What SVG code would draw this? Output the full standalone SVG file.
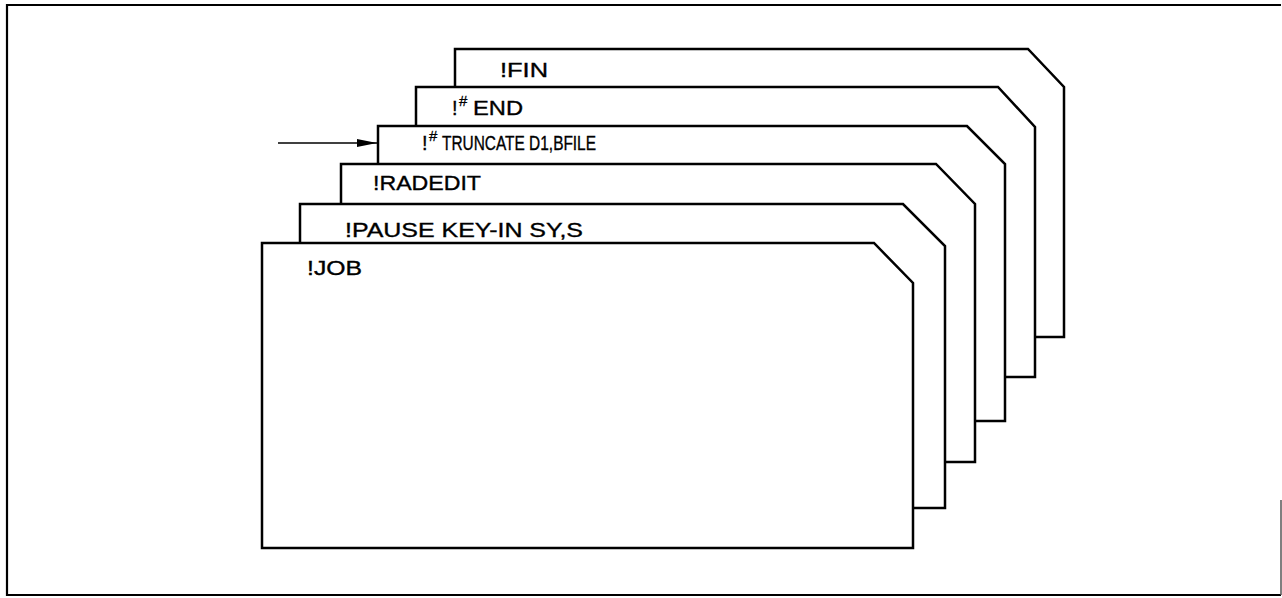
<svg xmlns="http://www.w3.org/2000/svg" width="1282" height="598" viewBox="0 0 1282 598">
<style>
.card{fill:#fff;stroke:#000;stroke-width:2.5;stroke-linejoin:miter}
.t{font-family:"Liberation Sans",Arial,sans-serif;font-size:20px;fill:#000;stroke:#000;stroke-width:0.35}
.s{font-family:"Liberation Sans",Arial,sans-serif;font-size:15px;fill:#000;stroke:#000;stroke-width:0.3}
.ln{stroke:#000;stroke-width:1.6;fill:none}
.fr{stroke:#000;stroke-width:2.2;fill:none}
</style>
<defs>
<marker id="ah" markerWidth="20" markerHeight="10" refX="20" refY="5" orient="auto" markerUnits="userSpaceOnUse">
<path d="M0,1 L20,5 L0,9 Z" fill="#000"/>
</marker>
</defs>
<rect x="0" y="0" width="1282" height="598" fill="#fff"/>
<path class="fr" d="M1281,5 L7,5 L7,595 L1281,595"/>
<path d="M1281,500 L1281,595" stroke="#555" stroke-width="1.5" fill="none"/>
<g id="card-fin">
<path class="card" d="M455,337 L455,49 L1028,49 L1064,87 L1064,337 Z"/>
<text class="t" x="500" y="77" textLength="48" lengthAdjust="spacingAndGlyphs">!FIN</text>
</g>
<g id="card-end">
<path class="card" d="M416,377 L416,87 L998,87 L1035,127 L1035,377 Z"/>
<text class="t" x="452" y="115">!</text>
<text class="s" x="459" y="106">#</text>
<text class="t" x="473" y="115" textLength="50" lengthAdjust="spacingAndGlyphs">END</text>
</g>
<g id="card-truncate">
<path class="card" d="M378,421 L378,126 L967,126 L1005,164 L1005,421 Z"/>
<text class="t" x="422" y="150">!</text>
<text class="s" x="429" y="141">#</text>
<text class="t" x="442" y="150" textLength="154" lengthAdjust="spacingAndGlyphs">TRUNCATE D1,BFILE</text>
</g>
<g id="card-radedit">
<path class="card" d="M341,462 L341,164 L936,164 L975,204 L975,462 Z"/>
<text class="t" x="373" y="190" textLength="108" lengthAdjust="spacingAndGlyphs">!RADEDIT</text>
</g>
<g id="card-pause">
<path class="card" d="M300,508 L300,204 L903,204 L945,246 L945,508 Z"/>
<text class="t" x="345" y="237" textLength="238" lengthAdjust="spacingAndGlyphs">!PAUSE KEY-IN SY,S</text>
</g>
<g id="card-job">
<path class="card" d="M262,548 L262,243 L874,243 L913,283 L913,548 Z"/>
<text class="t" x="307" y="275" textLength="55" lengthAdjust="spacingAndGlyphs">!JOB</text>
</g>
<g id="connectors">
<line class="ln" x1="278" y1="143" x2="377" y2="143" marker-end="url(#ah)"/>
</g>
</svg>
